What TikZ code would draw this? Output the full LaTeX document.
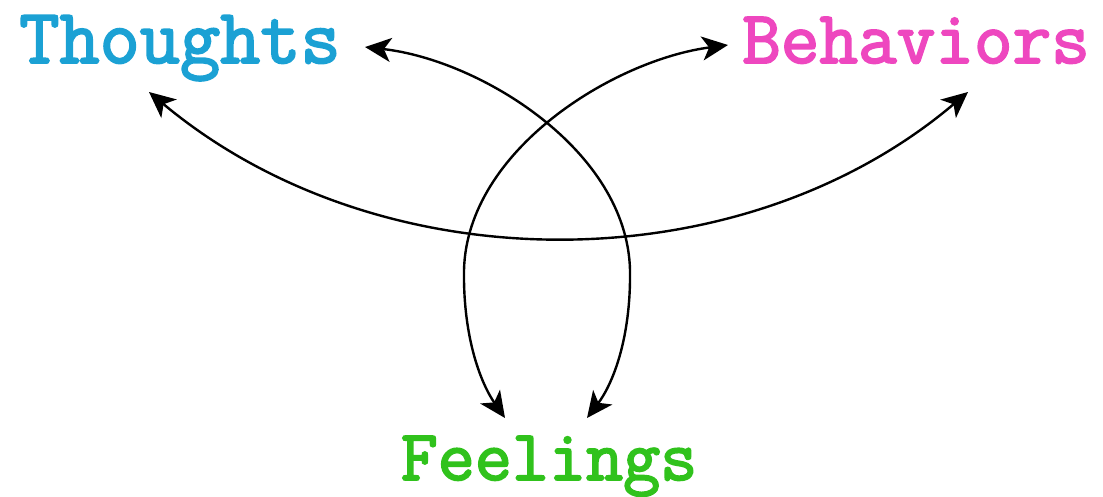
\documentclass[tikz,border=0pt]{standalone}
\usepackage{fontspec}
\usetikzlibrary{arrows.meta}
\newfontfamily\wordfont[FakeBold=2.5]{Latin Modern Mono}
\definecolor{thoughtc}{HTML}{1BA1D4}
\definecolor{behavc}{HTML}{EE47BF}
\definecolor{feelc}{HTML}{30C21C}
\tikzset{
  word/.style={inner sep=0pt, anchor=base},
  link/.style={line width=2.4pt, {Stealth[length=26pt,width=24pt,inset=7pt]}-{Stealth[length=26pt,width=24pt,inset=7pt]}}
}
\begin{document}
\begin{tikzpicture}[x=1pt,y=-1pt]
\useasboundingbox (0,0) rectangle (1103,496);
\node[word, text=thoughtc] (th) at (180,63) {\fontsize{78}{80}\wordfont Thoughts};
\node[word, text=behavc] (be) at (916,63) {\fontsize{75}{77}\wordfont Behaviors};
\node[word, text=feelc] (fe) at (549,480) {\fontsize{72}{74}\wordfont Feelings};
\coordinate (tA) at (149,92);
\coordinate (tB) at (365,47);
\coordinate (bA) at (728,45);
\coordinate (bB) at (968,92);
\coordinate (fA) at (505,418);
\coordinate (fB) at (587,418);
\draw[link] (tA) .. controls (380,285) and (740,285) .. (bB);
\draw[link] (tB) .. controls (480,60) and (627,150) .. (630,270) .. controls (631,340) and (612,385) .. (fB);
\draw[link] (bA) .. controls (614,60) and (467,150) .. (464,270) .. controls (463,340) and (482,385) .. (fA);
\end{tikzpicture}
\end{document}
